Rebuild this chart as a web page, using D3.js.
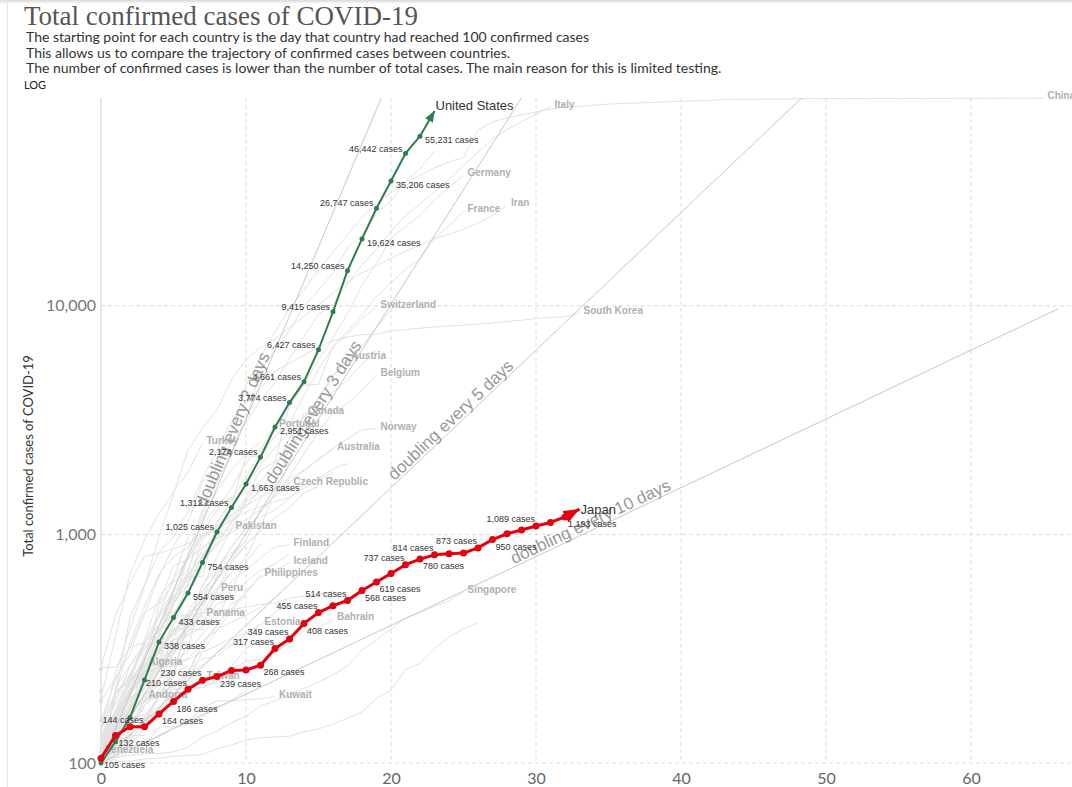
<!DOCTYPE html>
<html><head><meta charset="utf-8">
<script src="https://cdn.jsdelivr.net/npm/d3@7"></script>
<style>
html,body{margin:0;padding:0;background:#fff;}
svg{display:block;}
</style></head><body>
<svg id="chart" width="1072" height="787"></svg>
<script>
// ---------- text ----------
const titleText = "Total confirmed cases of COVID-19";
const subtitleLines = [
  "The starting point for each country is the day that country had reached 100 confirmed cases",
  "This allows us to compare the trajectory of confirmed cases between countries.",
  "The number of confirmed cases is lower than the number of total cases. The main reason for this is limited testing."
];
const scaleLabel = "LOG";
const yAxisTitle = "Total confirmed cases of COVID-19";

// ---------- axes ----------
const xTicks = [0, 10, 20, 30, 40, 50, 60];
const yTicks = [100, 1000, 10000];
const dayDomain = [0, 66];
const caseDomain = [100, 81171];

// ---------- highlighted series (index = days since 100th case) ----------
const usName = "United States";
const usCases = [100, 124, 158, 231, 338, 433, 554, 754, 1025, 1312, 1663, 2174, 2951, 3774, 4661, 6427, 9415, 14250, 19624, 26747, 35206, 46442, 55231, 71200];
const usLabelSide = ["", "", "", "", "R", "R", "R", "R", "L", "L", "R", "L", "R", "L", "L", "L", "L", "L", "R", "L", "R", "L", "R", ""];

const japanName = "Japan";
const japanCases = [105, 132, 144, 144, 164, 186, 210, 230, 239, 254, 255, 268, 317, 349, 408, 455, 488, 514, 568, 619, 675, 737, 780, 814, 824, 829, 873, 950, 1007, 1046, 1089, 1128, 1193, 1291];
const japanLabelSide = ["R", "R", "", "L", "R", "R", "L", "L", "R", "", "", "R", "L", "L", "R", "L", "", "L", "R", "R", "", "L", "R", "L", "", "", "L", "R", "", "", "L", "", "R", ""];

// ---------- background countries ----------
const countryNames = [
  "Italy", "China", "Germany", "France", "Iran", "Switzerland", "South Korea", "Austria", "Belgium", "Canada",
  "Portugal", "Norway", "Australia", "Turkey", "Czech Republic", "Pakistan", "Finland", "Iceland", "Philippines", "Peru",
  "Panama", "Estonia", "Bahrain", "Singapore", "Algeria", "Taiwan", "Andorra", "Kuwait", "Venezuela",
  "Spain", "United Kingdom", "Netherlands", "Sweden", "Denmark", "Malaysia", "Israel", "Brazil", "Ireland", "Chile",
  "Luxembourg", "Ecuador", "Poland", "Romania", "Saudi Arabia", "Indonesia", "Greece", "Thailand", "India", "South Africa",
  "Qatar", "Egypt", "Slovenia", "Croatia", "Hong Kong", "Mexico", "Colombia", "Argentina", "Serbia", "Russia",
  "Dominican Republic", "Iraq", "Lebanon", "United Arab Emirates", "Armenia", "Lithuania", "New Zealand", "Ukraine", "Hungary", "Bulgaria",
  "San Marino", "Latvia", "Slovakia", "Morocco", "Tunisia", "Uruguay", "Costa Rica", "Bosnia", "Jordan", "North Macedonia",
  "Albania", "Cyprus", "Moldova", "Burkina Faso", "Senegal", "Brunei"
];
const countryCases = [
  [155, 229, 322, 453, 655, 888, 1128, 1694, 2036, 2502, 3089, 3858, 4636, 5883, 7375, 9172, 10149, 12462, 15113, 17660, 21157, 24747, 27980, 31506, 35713, 41035, 47021, 53578, 59138, 63927, 69176, 74386],
  [100, 140, 200, 291, 440, 571, 830, 1287, 1975, 2744, 4515, 5974, 7711, 9692, 11791, 14380, 17205, 20438, 24324, 28018, 31161, 34546, 37198, 40171, 42638, 44653, 58761, 63851, 66492, 68500, 70548, 72436, 74185, 74576, 75465, 76288, 76936, 77150, 77658, 78064, 78497, 78824, 79251, 79824, 80026, 80151, 80270, 80409, 80552, 80651, 80695, 80735, 80754, 80778, 80793, 80813, 80824, 80844, 80860, 80881, 80894, 80928, 80967, 81008, 81054, 81171],
  [130, 159, 196, 262, 400, 530, 670, 799, 1040, 1176, 1457, 1908, 2078, 3675, 4585, 5795, 7272, 9257, 12327, 15320, 19848, 22213, 24873, 29056, 32986, 37300],
  [100, 130, 191, 212, 285, 423, 613, 949, 1126, 1412, 1784, 2281, 2876, 3661, 4499, 4532, 6683, 7715, 9124, 10970, 12612, 14459, 16018, 19856, 22304, 26000],
  [139, 245, 388, 593, 978, 1501, 2336, 2922, 3513, 4747, 5823, 6566, 7161, 8042, 9000, 10075, 11364, 12729, 13938, 14991, 16169, 17361, 18407, 19644, 20610, 21638, 23049, 24811, 27500],
  [100, 214, 268, 337, 374, 491, 652, 652, 1139, 1359, 2200, 2200, 2700, 3028, 4075, 5294, 6575, 7474, 8795, 9877],
  [104, 204, 433, 602, 833, 977, 1261, 1766, 2337, 3150, 3736, 4335, 5186, 5621, 6088, 6593, 7041, 7313, 7478, 7513, 7755, 7869, 7979, 8086, 8162, 8236, 8320, 8413, 8565, 8652, 8799, 8897, 8961, 9300],
  [104, 131, 182, 246, 302, 504, 655, 860, 1018, 1332, 1646, 2013, 2388, 2814, 3244, 3924, 4876, 5888],
  [109, 169, 200, 239, 267, 314, 314, 559, 689, 886, 1058, 1243, 1486, 1795, 2257, 2815, 3401, 3743, 4269, 5000],
  [103, 117, 176, 193, 198, 252, 415, 478, 657, 800, 943, 1277, 1469, 2088, 3409],
  [112, 169, 245, 331, 448, 642, 785, 1020, 1280, 1600, 2060, 2362, 2995],
  [113, 169, 192, 277, 489, 621, 702, 996, 1090, 1221, 1333, 1463, 1550, 1746, 1914, 2118, 2385, 2621, 2863, 2900],
  [107, 128, 128, 200, 250, 297, 377, 452, 568, 681, 791, 1071, 1549, 1682, 1896, 2136, 2360],
  [191, 359, 670, 947, 1236, 1529, 1872, 2500],
  [116, 150, 214, 298, 383, 450, 560, 765, 889, 1047, 1161, 1287, 1497, 1654],
  [187, 236, 299, 454, 501, 730, 776, 875, 972, 1063],
  [109, 155, 210, 267, 272, 319, 400, 450, 523, 626, 700, 792, 880, 900],
  [101, 117, 134, 156, 171, 220, 250, 330, 409, 473, 568, 648, 700, 750],
  [111, 140, 142, 187, 202, 217, 230, 307, 380, 462, 552, 665],
  [117, 145, 234, 234, 263, 318, 363, 395, 570],
  [109, 137, 200, 245, 313, 345, 362, 443],
  [115, 171, 205, 225, 258, 267, 283, 306, 326, 352, 369, 404],
  [109, 110, 140, 189, 195, 210, 214, 214, 228, 256, 278, 285, 305, 334, 377, 392, 425],
  [102, 106, 108, 110, 110, 112, 117, 130, 138, 150, 160, 178, 187, 200, 212, 226, 243, 266, 313, 345, 385, 432, 455, 485, 512, 558],
  [139, 201, 230, 270],
  [100, 108, 135, 153, 169, 195, 215, 235],
  [113, 133, 164, 194],
  [100, 104, 112, 123, 130, 142, 148, 159, 176, 188, 189, 191, 195],
  [112],
  [120, 165, 228, 282, 401, 525, 674, 1231, 1695, 2277, 3146, 5232, 6391, 7798, 9942, 11748, 13910, 17963, 20410, 25374, 28768, 35136, 39885, 47610],
  [115, 163, 206, 273, 321, 373, 456, 590, 797, 1061, 1391, 1543, 1950, 2626, 3269, 3983, 5018, 5683, 6650, 8077, 9529],
  [128, 188, 265, 321, 382, 503, 603, 804, 959, 1135, 1413, 1705, 2051, 2460, 2994, 3631, 4204, 4749, 5560, 6412],
  [137, 161, 203, 248, 355, 500, 599, 814, 961, 1022, 1103, 1190, 1279, 1439, 1639, 1763, 1934, 2046],
  [262, 442, 615, 801, 827, 864, 914, 977, 1057, 1151, 1255, 1326, 1395, 1450, 1591, 1724, 1877],
  [117, 129, 149, 158, 197, 238, 428, 566, 673, 790, 900, 1030, 1183, 1306, 1518, 1624],
  [109, 161, 193, 213, 250, 304, 427, 529, 712, 883, 1071, 1442, 1656, 2369, 2693],
  [121, 200, 234, 346, 529, 640, 970, 1178, 1546, 1924, 2247, 2554],
  [129, 169, 223, 292, 366, 557, 683, 785, 906, 1125, 1329, 1564],
  [155, 201, 238, 342, 434, 537, 632, 746, 922],
  [140, 203, 335, 484, 670, 798, 875, 1099, 1333, 1453],
  [111, 168, 199, 260, 367, 506, 789, 981, 1082, 1211],
  [103, 119, 177, 238, 251, 355, 425, 536, 634, 749, 901, 1051],
  [123, 131, 158, 184, 260, 277, 308, 367, 433, 576, 762, 906],
  [103, 118, 171, 238, 274, 344, 392, 511, 562, 767, 900],
  [117, 134, 172, 227, 309, 369, 450, 514, 579, 686],
  [117, 190, 228, 331, 331, 387, 418, 418, 495, 530, 624, 695, 743, 821],
  [114, 147, 177, 212, 272, 322, 411, 599, 721, 827, 934],
  [102, 113, 119, 142, 156, 194, 244, 330, 396, 499, 536],
  [116, 150, 202, 240, 274, 402, 554, 709],
  [262, 262, 320, 337, 401, 439, 442, 452, 460, 470, 481, 494, 501, 526, 537, 549, 562],
  [109, 110, 126, 150, 196, 196, 256, 285, 294, 327, 366, 402, 456, 495],
  [141, 181, 219, 253, 275, 275, 286, 341, 383, 414, 442, 480, 528],
  [105, 128, 206, 254, 315, 382, 442, 495, 586],
  [100, 101, 102, 104, 105, 107, 108, 109, 115, 120, 126, 129, 130, 131, 137, 141, 148, 157, 167, 192, 208, 256, 273, 317, 356, 386, 411],
  [118, 164, 203, 251, 316, 367, 405],
  [102, 128, 158, 196, 231, 306, 378, 470],
  [128, 158, 225, 266, 301, 387, 387, 502],
  [103, 135, 171, 222, 249, 303, 384, 384, 457],
  [114, 147, 199, 253, 306, 367, 438, 495, 658],
  [112, 202, 245, 312, 392],
  [101, 110, 124, 154, 164, 192, 208, 214, 233, 266, 316, 346],
  [110, 120, 133, 157, 163, 187, 248, 267, 304, 333],
  [113, 140, 153, 153, 198, 248, 333],
  [115, 136, 160, 194, 235, 249, 265],
  [105, 131, 143, 179, 209, 274],
  [102, 155, 205, 283],
  [113, 145, 196],
  [103, 131, 167, 187, 226],
  [127, 163, 187, 201, 218, 242],
  [101, 109, 119, 119, 144, 144, 151, 175, 187, 187, 208],
  [111, 124, 139, 180, 197, 221],
  [105, 137, 178, 185, 204, 216],
  [115, 143, 170, 225],
  [114, 173],
  [110, 135, 158, 162, 189],
  [113, 117, 134, 158, 177, 201],
  [126, 136, 166],
  [112, 127, 153, 172],
  [114, 136, 148, 177],
  [104, 123, 146],
  [116, 124, 132, 132],
  [258],
  [206],
  [187],
  [154]
];
const labeledCountries = ["Italy", "China", "Germany", "France", "Iran", "Switzerland", "South Korea", "Austria", "Belgium", "Canada",
  "Portugal", "Norway", "Australia", "Turkey", "Czech Republic", "Pakistan", "Finland", "Iceland", "Philippines", "Peru",
  "Panama", "Estonia", "Bahrain", "Singapore", "Algeria", "Taiwan", "Andorra", "Kuwait", "Venezuela"];

// ---------- doubling reference lines ----------
const doublingPeriods = [2, 3, 5, 10];
const doublingLabels = ["doubling every 2 days", "doubling every 3 days", "doubling every 5 days", "doubling every 10 days"];
const doublingLabelDay = [9.6, 15.1, 24.5, 34.0];

// ================= drawing =================
const svg = d3.select("#chart");
const W = 1072, H = 787;
const plot = {left: 101, right: 1058, top: 98, bottom: 763};

const x = d3.scaleLinear().domain(dayDomain).range([plot.left, plot.right]);
const y = d3.scaleLog().domain(caseDomain).range([plot.bottom, plot.top]);

const SANS = "'Liberation Sans', Arial, sans-serif";
const LATO = "Lato, 'Noto Sans', sans-serif";

// page frame
const defs = svg.append("defs");
const grad = defs.append("linearGradient").attr("id", "topShade").attr("x1", 0).attr("y1", 0).attr("x2", 0).attr("y2", 1);
grad.append("stop").attr("offset", "0%").attr("stop-color", "#d9d9d9");
grad.append("stop").attr("offset", "100%").attr("stop-color", "#ffffff");
svg.append("rect").attr("x", 0).attr("y", 0).attr("width", W).attr("height", 4).attr("fill", "url(#topShade)");
svg.append("line").attr("x1", 7.5).attr("x2", 7.5).attr("y1", 0).attr("y2", H).attr("stroke", "#e6e6e6");

// title & subtitle
svg.append("text").attr("x", 24).attr("y", 25).text(titleText)
  .attr("font-family", "'Liberation Serif', 'DejaVu Serif', serif").attr("font-size", 27).attr("fill", "#555");
svg.append("g").selectAll("text").data(subtitleLines).join("text")
  .attr("x", 26).attr("y", (d, i) => 42 + i * 15.5).text(d => d)
  .attr("font-family", LATO).attr("font-size", 14).attr("fill", "#333");
svg.append("text").attr("x", 24).attr("y", 89).text(scaleLabel)
  .attr("font-family", LATO).attr("font-size", 11).attr("fill", "#222");

// grid
const grid = svg.append("g");
grid.selectAll("line.v").data(xTicks.filter(t => t > 0)).join("line")
  .attr("x1", d => x(d)).attr("x2", d => x(d)).attr("y1", plot.top).attr("y2", plot.bottom)
  .attr("stroke", "#dcdcdc").attr("stroke-dasharray", "4,3");
grid.selectAll("line.h").data(yTicks).join("line")
  .attr("x1", plot.left).attr("x2", W).attr("y1", d => y(d)).attr("y2", d => y(d))
  .attr("stroke", "#dcdcdc").attr("stroke-dasharray", "4,3");
svg.append("line").attr("x1", plot.left).attr("x2", plot.left).attr("y1", plot.top).attr("y2", plot.bottom)
  .attr("stroke", "#cfcfcf");

// axes labels via d3 axes
const xAxis = svg.append("g").attr("transform", `translate(0,${plot.bottom})`)
  .call(d3.axisBottom(x).tickValues(xTicks).tickSize(0).tickPadding(10).tickFormat(d3.format("d")));
xAxis.select(".domain").remove();
xAxis.selectAll("text").attr("font-family", LATO).attr("font-size", 16).attr("fill", "#666").attr("dy", "0.71em").attr("y", 10);

const yAxis = svg.append("g").attr("transform", `translate(${plot.left},0)`)
  .call(d3.axisLeft(y).tickValues(yTicks).tickSize(0).tickPadding(5).tickFormat(d3.format(",")));
yAxis.select(".domain").remove();
yAxis.selectAll("text").attr("font-family", LATO).attr("font-size", 16).attr("fill", "#777");

svg.append("text").attr("transform", `translate(33,456) rotate(-90)`).attr("text-anchor", "middle")
  .text(yAxisTitle).attr("font-family", LATO).attr("font-size", 13).attr("fill", "#333");

const line = d3.line().x((d, i) => x(i)).y(d => y(d));

// background countries
const gLines = svg.append("g");
countryCases.forEach((vals, k) => {
  if (vals.length > 1) {
    gLines.append("path").attr("d", line(vals)).attr("fill", "none")
      .attr("stroke", "#e2e2e2").attr("stroke-width", 1);
  } else {
    gLines.append("circle").attr("cx", x(0)).attr("cy", y(vals[0])).attr("r", 2).attr("fill", "#dcdcdc");
  }
});

// doubling lines
const gDbl = svg.append("g");
const yMax = caseDomain[1];
doublingPeriods.forEach((p, k) => {
  const endDay = Math.min(dayDomain[1], p * Math.log2(yMax / caseDomain[0]));
  const endVal = caseDomain[0] * Math.pow(2, endDay / p);
  gDbl.append("line").attr("x1", x(0)).attr("y1", y(caseDomain[0])).attr("x2", x(endDay)).attr("y2", y(endVal))
    .attr("stroke", "#c8c8c8").attr("stroke-width", 1);
  const d0 = doublingLabelDay[k];
  const px = x(d0), py = y(caseDomain[0] * Math.pow(2, d0 / p));
  const ang = Math.atan2(y(caseDomain[0] * Math.pow(2, (d0 + 1) / p)) - py, x(d0 + 1) - px) * 180 / Math.PI;
  gDbl.append("text").attr("transform", `translate(${px},${py}) rotate(${ang})`)
    .attr("text-anchor", "middle").attr("dy", "-0.15em").text(doublingLabels[k])
    .attr("font-family", SANS).attr("font-size", 17).attr("fill", "#999");
});

// country labels
const gCL = svg.append("g");
countryNames.forEach((n, k) => {
  if (!labeledCountries.includes(n)) return;
  const vals = countryCases[k];
  const last = vals.length - 1;
  gCL.append("text").attr("x", x(last) + 4).attr("y", y(vals[last])).attr("dy", "0.1em").text(n)
    .attr("font-family", SANS).attr("font-size", 10).attr("font-weight", "bold").attr("fill", "#b0b0b0");
});

// highlighted series
function drawSeries(vals, sides, color, width, r, arrowId, arrowLen, arrowW, name, nameDy, off) {
  const m = defs.append("marker").attr("id", arrowId).attr("markerUnits", "userSpaceOnUse")
    .attr("markerWidth", arrowLen).attr("markerHeight", arrowW).attr("refX", arrowLen).attr("refY", arrowW / 2)
    .attr("orient", "auto").attr("viewBox", `0 0 ${arrowLen} ${arrowW}`);
  m.append("path").attr("d", `M0,0 L${arrowLen},${arrowW / 2} L0,${arrowW} Z`).attr("fill", color);
  const g = svg.append("g");
  g.append("path").attr("d", line(vals)).attr("fill", "none").attr("stroke", color)
    .attr("stroke-width", width).attr("stroke-linejoin", "round").attr("marker-end", `url(#${arrowId})`);
  g.selectAll("circle").data(vals.slice(0, -1)).join("circle")
    .attr("cx", (d, i) => x(i)).attr("cy", d => y(d)).attr("r", r).attr("fill", color);
  const last = vals.length - 1;
  g.append("text").attr("x", x(last) + 1).attr("y", y(vals[last]) + nameDy).text(name)
    .attr("font-family", SANS).attr("font-size", 13).attr("fill", "#333");
  vals.forEach((v, i) => {
    const s = sides[i];
    if (!s) return;
    const t = g.append("text").attr("dy", "0.35em").text(d3.format(",")(v) + " cases")
      .attr("font-family", SANS).attr("font-size", 9).attr("fill", "#333");
    if (s === "R") t.attr("x", x(i) + off.rx).attr("y", y(v) + off.ry);
    else t.attr("x", x(i) - off.lx).attr("y", y(v) - off.ly).attr("text-anchor", "end");
  });
}

drawSeries(usCases, usLabelSide, "#2e7d4f", 2, 2.5, "arrUS", 11, 9, usName, -1, {rx: 5, ry: 4, lx: 3, ly: 5});
drawSeries(japanCases, japanLabelSide, "#e3000f", 3, 3.5, "arrJP", 16, 13, japanName, 4.5, {rx: 3, ry: 7, lx: 1, ly: 7});
</script>
</body></html>
